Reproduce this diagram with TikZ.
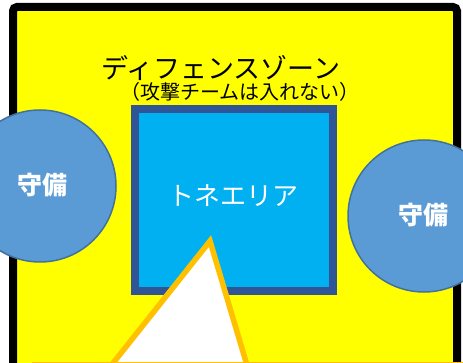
\documentclass[tikz,border=0pt]{standalone}
\usepackage{fontspec}
\newfontfamily\jp{Noto Sans CJK JP}
\definecolor{zone}{HTML}{FFFF00}
\definecolor{sqfill}{HTML}{00B0F0}
\definecolor{sqborder}{HTML}{2F5597}
\definecolor{cfill}{HTML}{5B9BD5}
\definecolor{cborder}{HTML}{41719C}
\definecolor{tri}{HTML}{FFC000}
\tikzset{
  defender/.style={circle, draw=cborder, fill=cfill, line width=1.5pt, minimum size=152pt, inner sep=0pt},
  deftext/.style={text=white, font=\jp\bfseries\fontsize{25}{25}\selectfont, inner sep=0pt},
}
\begin{document}
\begin{tikzpicture}[x=1pt,y=-1pt]
\useasboundingbox (0,0) rectangle (463,363);
\fill[white] (0,0) rectangle (463,363);
% zone frame
\filldraw[fill=zone, draw=black, line width=8pt, rounded corners=4pt] (13,7) rectangle (457,420);
% titles
\node[font=\jp\fontsize{27}{27}\selectfont, inner sep=0pt] (title) at (221,68) {ディフェンスゾーン};
\node[font=\jp\fontsize{20}{20}\selectfont, inner sep=0pt] (sub) at (240,92) {（攻撃チームは入れない）};
% area
\node[draw=sqborder, fill=sqfill, line width=8pt, minimum width=198pt, minimum height=182pt, inner sep=0pt] (area) at (234,200) {};
\node[text=white, font=\jp\fontsize{26}{26}\selectfont, inner sep=0pt] (areatext) at (233,196) {トネエリア};
% defenders
\node[defender] (d1) at (40,186) {};
\node[deftext] (d1t) at (42,185) {守備};
\node[defender] (d2) at (424,216) {};
\node[deftext] (d2t) at (423,215) {守備};
% triangle
\coordinate (apex) at (210,241);
\coordinate (bl) at (106,372);
\coordinate (br) at (249,372);
\filldraw[fill=white, draw=tri, line width=5.5pt, line join=miter] (bl) -- (apex) -- (br);
% bottom line
\coordinate (b1) at (32,362.5);
\coordinate (b2) at (463,362.5);
\draw[tri, line width=1.2pt] (b1) -- (b2);
\end{tikzpicture}
\end{document}
